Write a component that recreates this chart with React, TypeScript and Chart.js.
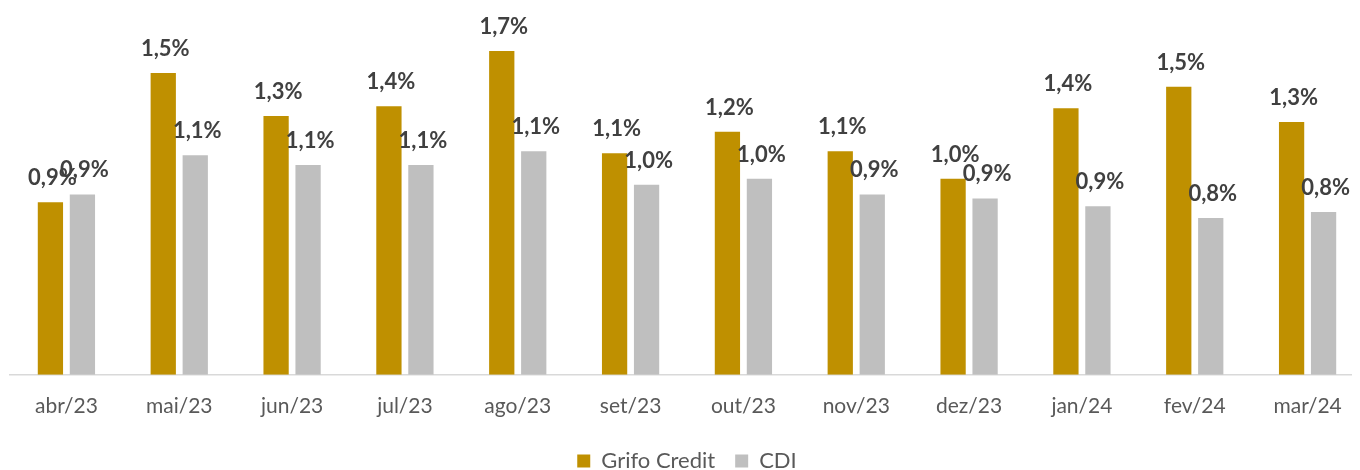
import React, { useEffect, useRef } from "react";
import { Chart, registerables } from "chart.js";

Chart.register(...registerables);

const categories = ["abr/23", "mai/23", "jun/23", "jul/23", "ago/23", "set/23", "out/23", "nov/23", "dez/23", "jan/24", "fev/24", "mar/24"];
const grifoValues = [0.88, 1.54, 1.32, 1.37, 1.652, 1.13, 1.24, 1.14, 1.0, 1.36, 1.47, 1.29];
const cdiValues = [0.92, 1.12, 1.07, 1.07, 1.14, 0.97, 1.0, 0.92, 0.9, 0.86, 0.8, 0.83];
const seriesNames = ["Grifo Credit", "CDI"];

const FONT = "Lato, 'Open Sans', sans-serif";

const labelPlugin = {
  id: "valueLabels",
  afterDatasetsDraw(chart: any) {
    const ctx = chart.ctx;
    ctx.save();
    ctx.font = `bold 22px ${FONT}`;
    ctx.fillStyle = "#404040";
    ctx.textAlign = "center";
    ctx.textBaseline = "alphabetic";
    chart.data.datasets.forEach((ds: any, di: number) => {
      const meta = chart.getDatasetMeta(di);
      meta.data.forEach((bar: any, i: number) => {
        const v = ds.data[i] as number;
        const txt = v.toFixed(1).replace(".", ",") + "%";
        ctx.fillText(txt, bar.x + 2, bar.y - 17);
      });
    });
    ctx.restore();
  },
};

export default function App() {
  const ref = useRef<HTMLCanvasElement | null>(null);
  useEffect(() => {
    if (!ref.current) return;
    const chart = new Chart(ref.current, {
      type: "bar",
      data: {
        labels: categories,
        datasets: [
          { label: seriesNames[0], data: grifoValues, backgroundColor: "#BF9000" },
          { label: seriesNames[1], data: cdiValues, backgroundColor: "#BFBFBF" },
        ],
      },
      options: {
        animation: false,
        responsive: true,
        maintainAspectRatio: false,
        layout: { padding: { top: 14, left: 2, right: 0, bottom: 0 } },
        datasets: {
          bar: { categoryPercentage: 0.567, barPercentage: 0.79 },
        },
        scales: {
          x: {
            grid: { display: false },
            border: { color: "#D9D9D9", width: 1.5 },
            ticks: { color: "#595959", font: { family: FONT, size: 21 }, padding: 11 },
          },
          y: {
            display: false,
            min: 0,
            max: 1.8,
          },
        },
        plugins: {
          legend: {
            position: "bottom",
            labels: {
              color: "#595959",
              font: { family: FONT, size: 22 },
              boxWidth: 13,
              boxHeight: 13,
              padding: 20,
            },
          },
          tooltip: { enabled: false },
        },
      },
      plugins: [labelPlugin],
    });
    return () => chart.destroy();
  }, []);
  return (
    <div style={{ width: 1352, overflow: "hidden" }}>
      <div style={{ width: 1356, height: 474 }}>
        <canvas ref={ref} />
      </div>
    </div>
  );
}
